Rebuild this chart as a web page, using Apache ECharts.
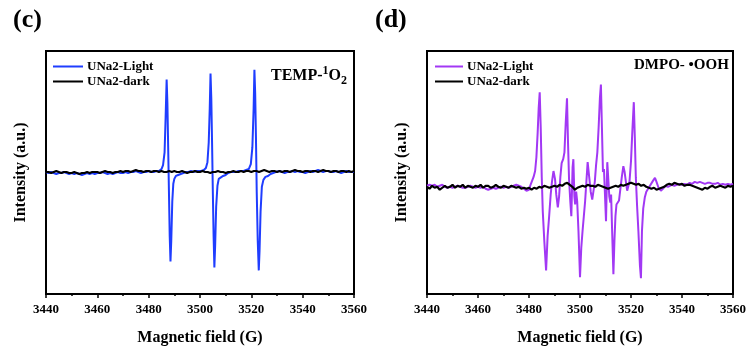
<!DOCTYPE html>
<html><head><meta charset="utf-8">
<script src="https://cdn.jsdelivr.net/npm/echarts@6/dist/echarts.min.js"></script>
<style>html,body{margin:0;padding:0;background:#fff}#c{width:749px;height:351px}</style>
</head><body><div id="c"></div>
<script>
// Panel (c) TEMP-1O2 : blue light spectrum
const fieldLightC = [3440,3441,3442,3443,3444,3445,3446,3447,3448,3449,3450,3451,3452,3453,3454,3455,3456,3457,3458,3459,3460,3461,3462,3463,3464,3465,3466,3467,3468,3469,3470,3471,3472,3473,3474,3475,3476,3477,3478,3479,3480,3481,3482,3483,3484,
3485,3485.6,3486.2,3486.6,3487,3487.3,3487.6,3487.9,3488.2,3488.5,3488.8,3489.2,3489.6,3490,3490.6,3491.5,3492.5,3493.5,3494.5,3495.5,3496.5,3497.5,3498.5,3499.5,3500.5,3501.5,3502.3,3502.9,3503.4,3503.8,3504.1,3504.4,3504.7,3505,3505.3,3505.6,3505.9,3506.3,3506.8,3507.3,3508,3509,3510,3511,3512,3513,3514,3515,3516,3517,3518,3519,3519.8,3520.4,3520.9,3521.2,3521.5,3521.8,3522.1,3522.5,3522.9,3523.2,3523.6,3524.1,3524.7,3525.5,3526.5,3527.5,3528.5,3529.5,
3530,3531,3532,3533,3534,3535,3536,3537,3538,3539,3540,3541,3542,3543,3544,3545,3546,3547,3548,3549,3550,3551,3552,3553,3554,3555,3556,3557,3558,3559,3560];
const intensityLightC = [0,-1,0,-1,-2,-1,-1,0,-1,-2,-1,-2,-1,-2,-3,-2,-1,-2,-1,-2,-1,-1,0,-1,-2,-1,-2,-1,0,-1,-1,0,-1,0,0,1,0,-1,0,0,1,0,0,1,1,
3,7,20,55,94,70,25,-20,-65,-91,-70,-30,-12,-7,-4,-3,-2,-1,0,0,1,0,1,1,1,2,4,10,30,65,100,75,30,-20,-65,-97,-75,-35,-14,-7,-5,-4,-3,-1,0,0,0,1,1,1,2,3,8,25,65,104,80,35,-20,-70,-100,-80,-40,-15,-8,-5,-4,-2,-1,0,
0,1,0,-1,0,0,1,0,1,0,0,-1,0,1,0,1,2,1,0,1,1,0,0,1,0,-1,0,1,0,0,0];
// Panel (c) dark (every 1 G from 3440 to 3560)
const intensityDarkC = [0,0,-1,0,1,0,-1,0,0,-1,
-1,0,-1,-2,-1,-1,0,-1,0,0,
0,-1,0,1,0,0,-1,0,0,1,
0,1,1,0,1,2,1,1,0,1,
1,0,1,1,0,1,0,0,1,0,
1,0,0,1,0,-1,0,0,1,0,
0,1,0,0,-1,0,0,1,0,0,
-1,0,0,1,0,0,1,0,1,1,
0,1,1,0,1,2,1,0,1,1,
0,1,0,1,1,0,1,2,1,1,
0,1,1,0,1,1,0,1,2,1,
1,0,1,1,0,1,1,0,1,0,
1];

// Panel (d) DMPO-OOH : purple light spectrum
const fieldLightD = [3440,3441,3442,3443,3444,3445,3446,3447,3448,3449,3450,3451,3452,3453,3454,3455,3456,3457,3458,3459,3460,3461,3462,3463,3464,3465,3466,3467,3468,3469,3470,3471,3472,3473,3474,3475,3476,3477,3478,3479,
3479.5,3480,3480.6,3481.2,3481.8,3482.4,3482.9,3483.4,3483.8,3484.2,3484.6,3485,3485.4,3486,3486.7,3487.3,3487.9,3488.5,3489,3489.6,3490.2,3490.7,3491.3,3491.8,3492.3,3492.8,3493.4,3493.9,3494.4,3494.9,3495.3,3495.7,3496.2,3496.6,3497.1,3497.4,3497.8,3498.1,3498.5,3498.9,3499.4,3500,3500.5,3501,3501.5,3502,3502.5,3503,3503.6,3504.2,3504.8,3505.3,3505.8,3506.3,3506.8,3507.3,3507.8,3508.2,3508.6,3509,3509.4,3509.8,3510.2,3510.7,3511.1,3511.5,3511.9,3512.2,3512.6,3513.1,3513.5,3513.9,3514.3,3514.8,3515.3,3515.8,3516.4,3517,3517.5,3518,3518.5,3518.9,3519.4,3520,3520.5,3521.1,3521.5,3521.9,3522.4,3522.9,3523.5,3523.9,3524.3,3524.8,3525.4,3526,3526.5,3527.2,3527.8,3528.6,3529.4,3530,3530.8,3531.7,3532.5,3533.5,3534.5,
3535,3536,3537,3538,3539,3540,3541,3542,3543,3544,3545,3546,3547,3548,3549,3550,3551,3552,3553,3554,3555,3556,3557,3558,3559,3560];
const intensityLightD = [1,2,1,2,0,1,2,0,-1,0,-1,0,1,0,-1,-1,0,1,0,-1,0,-1,0,-2,-3,-2,-1,-2,-1,0,-1,0,-1,0,1,2,1,0,-2,-4,
-5,-3,2,6,10,16,30,55,80,96,60,10,-25,-55,-85,-50,-30,-8,5,16,8,-8,-21,-10,10,24,28,35,65,90,45,8,-15,-30,20,28,-10,-18,-5,-15,-45,-92,-62,-45,-30,-15,5,25,10,-5,-13,-14,5,22,35,60,90,104,60,15,18,19,-35,25,27,-10,-16,-8,-45,-89,-55,-30,-18,-16,-14,-3,10,21,15,5,-4,-6,5,26,55,86,50,9,-20,-45,-80,-93,-45,-22,-11,-5,-3,0,2,6,9,5,-1,-4,-2,1,0,
1,2,1,2,3,2,3,2,4,3,5,4,5,4,3,4,4,3,3,4,2,3,2,3,2,3];
// Panel (d) dark (every 1 G from 3440 to 3560)
const intensityDarkD = [0,-2,1,-1,0,-3,-1,1,-1,0,
2,-1,1,0,2,-1,1,0,-1,1,
0,2,-1,1,1,-1,0,2,0,-1,
1,0,-1,1,0,-1,0,-2,-1,-2,
-1,-3,-1,-2,0,-1,1,0,-1,0,
1,0,2,1,3,4,2,0,-3,-1,
0,1,0,2,1,1,0,2,1,0,
-1,-2,-1,0,1,0,2,1,2,3,
4,3,2,3,1,2,0,-1,-2,-1,
-3,-2,-1,0,2,3,2,4,3,2,
3,1,2,2,1,0,-1,-2,-3,-1,
-2,0,1,-1,0,1,0,-1,1,0,
1];

const xTicks = [3440,3460,3480,3500,3520,3540,3560];

function zip(xs, ys){ return xs.map((x,i)=>[x, ys[i]]); }
function darkField(){ const a=[]; for(let i=0;i<intensityDarkC.length;i++) a.push(3440+i); return a; }
const fieldDark = darkField();

const serif = 'Liberation Serif';
const chart = echarts.init(document.getElementById('c'), null, {renderer:'canvas'});

function xAxis(gi){
  return {
    gridIndex: gi, type:'value', min: xTicks[0], max: xTicks[xTicks.length-1], interval: 20,
    name: 'Magnetic field (G)', nameLocation:'middle', nameGap: 36,
    nameTextStyle:{fontFamily:serif, fontWeight:'bold', fontSize:16, color:'#000'},
    axisLine:{show:true, onZero:false, lineStyle:{color:'#000', width:2}},
    axisTick:{show:true, inside:false, length:4, lineStyle:{color:'#000', width:1.5}},
    minorTick:{show:true, splitNumber:2, length:2, lineStyle:{color:'#000', width:1.5}},
    axisLabel:{fontFamily:serif, fontWeight:'bold', fontSize:13, color:'#000', margin:9,
               formatter: v => String(v)},
    splitLine:{show:false}
  };
}
function yAxis(gi, mn, mx){
  return {
    gridIndex: gi, type:'value', min: mn, max: mx,
    name: 'Intensity (a.u.)', nameLocation:'middle', nameGap: 17, nameRotate: 90,
    nameTextStyle:{fontFamily:serif, fontWeight:'bold', fontSize:16, color:'#000'},
    axisLine:{show:true, lineStyle:{color:'#000', width:2}},
    axisTick:{show:false}, axisLabel:{show:false}, splitLine:{show:false}
  };
}

const option = {
  animation:false,
  backgroundColor:'#fff',
  title:[
    {text:'(c)', left:8, top:2, textStyle:{fontFamily:serif, fontWeight:'bold', fontSize:26, color:'#000'}},
    {text:'(d)', left:370, top:2, textStyle:{fontFamily:serif, fontWeight:'bold', fontSize:26, color:'#000'}},
    {text:'{a|TEMP-}{s|1}{a|O}{b|2}', left:266, top:60,
     textStyle:{rich:{
       a:{fontFamily:serif, fontWeight:'bold', fontSize:16, color:'#000', lineHeight:22, verticalAlign:'middle'},
       s:{fontFamily:serif, fontWeight:'bold', fontSize:12, color:'#000', lineHeight:22, verticalAlign:'top'},
       b:{fontFamily:serif, fontWeight:'bold', fontSize:12, color:'#000', lineHeight:22, verticalAlign:'bottom'}
     }}},
    {text:'DMPO- •OOH', left:629, top:53, textStyle:{fontFamily:serif, fontWeight:'bold', fontSize:15, color:'#000'}}
  ],
  legend:[
    {orient:'vertical', left:48, top:55, itemWidth:30, itemHeight:2, itemGap:2, icon:'rect',
     data:['UNa2-Light','UNa2-dark'], formatter:n=>n.trim(),
     textStyle:{fontFamily:serif, fontWeight:'bold', fontSize:13, color:'#000', padding:[0,0,0,-1]}},
    {orient:'vertical', left:430, top:55, itemWidth:28, itemHeight:2, itemGap:2, icon:'rect',
     data:['UNa2-Light ','UNa2-dark '], formatter:n=>n.trim(),
     textStyle:{fontFamily:serif, fontWeight:'bold', fontSize:13, color:'#000', padding:[0,0,0,-1]}}
  ],
  grid:[
    {left:46, top:51, width:308, height:247, show:true, borderColor:'#000', borderWidth:2, backgroundColor:'transparent'},
    {left:427, top:51, width:307, height:247, show:true, borderColor:'#000', borderWidth:2, backgroundColor:'transparent'}
  ],
  xAxis:[xAxis(0), xAxis(1)],
  yAxis:[yAxis(0,-124,123), yAxis(1,-109,138)],
  series:[
    {name:'UNa2-Light', type:'line', xAxisIndex:0, yAxisIndex:0, data:zip(fieldLightC,intensityLightC),
     showSymbol:false, symbol:'none', lineStyle:{color:'#1f3dff', width:2}, itemStyle:{color:'#1f3dff'}},
    {name:'UNa2-dark', type:'line', xAxisIndex:0, yAxisIndex:0, data:zip(fieldDark,intensityDarkC),
     showSymbol:false, symbol:'none', lineStyle:{color:'#000', width:2}, itemStyle:{color:'#000'}},
    {name:'UNa2-Light ', type:'line', xAxisIndex:1, yAxisIndex:1, data:zip(fieldLightD,intensityLightD),
     showSymbol:false, symbol:'none', lineStyle:{color:'#a238f4', width:2}, itemStyle:{color:'#a238f4'}},
    {name:'UNa2-dark ', type:'line', xAxisIndex:1, yAxisIndex:1, data:zip(fieldDark,intensityDarkD),
     showSymbol:false, symbol:'none', lineStyle:{color:'#000', width:2.2}, itemStyle:{color:'#000'}}
  ]
};
chart.setOption(option);
</script></body></html>
